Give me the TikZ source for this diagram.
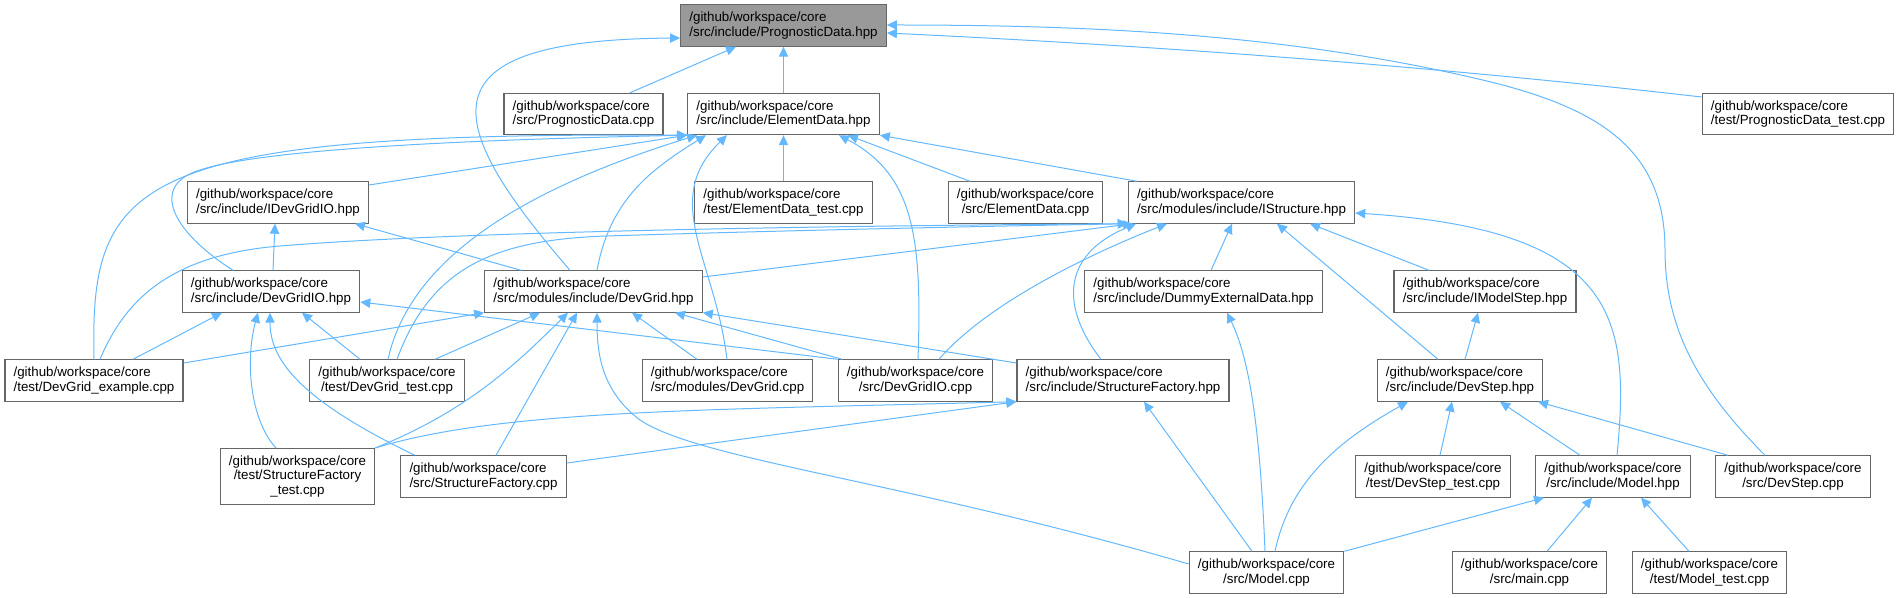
\documentclass[tikz,border=0pt]{standalone}
\usepackage{fontspec}
\setmainfont{Liberation Sans}
\usetikzlibrary{arrows.meta}
\definecolor{depblue}{HTML}{63B8FF}
\definecolor{boxgray}{HTML}{666666}
\definecolor{curgray}{HTML}{999999}

\begin{document}
\begin{tikzpicture}[
  x=0.75pt, y=-0.75pt,
  file/.style={rectangle,draw=boxgray,fill=white,line width=0.9pt,align=left,
    inner xsep=6.5pt,inner ysep=5.3pt,font=\fontsize{10}{11}\selectfont},
  mfile/.style={file,align=center},
  curfile/.style={file,fill=curgray},
  dep/.style={draw=depblue,line width=0.75pt,-{Triangle[length=7.5pt,width=7pt]}}
]
  \useasboundingbox (0,0) rectangle (1901,598);
  % files
  \node[curfile] (pdhpp) at (783.5,25.5) {/github/workspace/core\\/src/include/PrognosticData.hpp};
  \node[file] (pdcpp) at (583.5,114) {/github/workspace/core\\/src/PrognosticData.cpp};
  \node[file] (edhpp) at (783.5,114) {/github/workspace/core\\/src/include/ElementData.hpp};
  \node[file] (pdtest) at (1798,114) {/github/workspace/core\\/test/PrognosticData\_test.cpp};
  \node[file] (idgio) at (278,202.5) {/github/workspace/core\\/src/include/IDevGridIO.hpp};
  \node[file] (edtest) at (783.5,202.5) {/github/workspace/core\\/test/ElementData\_test.cpp};
  \node[mfile] (edcpp) at (1025.5,202.5) {/github/workspace/core\\/src/ElementData.cpp};
  \node[file] (istr) at (1241.5,202.5) {/github/workspace/core\\/src/modules/include/IStructure.hpp};
  \node[file] (dgiohpp) at (271,291.5) {/github/workspace/core\\/src/include/DevGridIO.hpp};
  \node[file] (dghpp) at (593.5,291.5) {/github/workspace/core\\/src/modules/include/DevGrid.hpp};
  \node[file] (dummy) at (1203.5,291.5) {/github/workspace/core\\/src/include/DummyExternalData.hpp};
  \node[file] (imstep) at (1485,291.5) {/github/workspace/core\\/src/include/IModelStep.hpp};
  \node[file] (dgex) at (94,380.5) {/github/workspace/core\\/test/DevGrid\_example.cpp};
  \node[mfile] (dgtest) at (387,380.5) {/github/workspace/core\\/test/DevGrid\_test.cpp};
  \node[file] (dgcpp) at (727.5,380.5) {/github/workspace/core\\/src/modules/DevGrid.cpp};
  \node[mfile] (dgiocpp) at (915.5,380.5) {/github/workspace/core\\/src/DevGridIO.cpp};
  \node[file] (sfhpp) at (1123,380.5) {/github/workspace/core\\/src/include/StructureFactory.hpp};
  \node[file] (dshpp) at (1460,380.5) {/github/workspace/core\\/src/include/DevStep.hpp};
  \node[mfile] (sftest) at (297.5,476.5) {/github/workspace/core\\/test/StructureFactory\\\_test.cpp};
  \node[file] (sfcpp) at (483.5,476.5) {/github/workspace/core\\/src/StructureFactory.cpp};
  \node[mfile] (dstest) at (1433,476.5) {/github/workspace/core\\/test/DevStep\_test.cpp};
  \node[mfile] (mhpp) at (1613,476.5) {/github/workspace/core\\/src/include/Model.hpp};
  \node[mfile] (dscpp) at (1793,476.5) {/github/workspace/core\\/src/DevStep.cpp};
  \node[mfile] (mcpp) at (1266.5,572.5) {/github/workspace/core\\/src/Model.cpp};
  \node[mfile] (maincpp) at (1529.5,572.5) {/github/workspace/core\\/src/main.cpp};
  \node[mfile] (mtest) at (1709.5,572.5) {/github/workspace/core\\/test/Model\_test.cpp};
  % PrognosticData.hpp
  \draw[dep] (pdcpp.north -| 630,0) -- (pdhpp.south -| 736,0);
  \draw[dep] (edhpp) -- (pdhpp);
  \draw[dep] (dghpp.north -| 570,0) .. controls (440,120) and (420,40) .. (pdhpp.west |- 0,38);
  \draw[dep] (pdtest.west |- 0,97) .. controls (1430,66) and (1160,46) .. (pdhpp.east |- 0,33);
  \draw[dep] (dscpp.north -| 1765,0) .. controls (1700,390) and (1665,330) .. (1665,250)
    .. controls (1665,150) and (1600,110) .. (1495,83) .. controls (1300,35) and (1100,25) .. (pdhpp.east |- 0,25);
  % ElementData.hpp
  \draw[dep] (idgio.east |- 0,185) -- (edhpp.south west);
  \draw[dep] (edtest) -- (edhpp);
  \draw[dep] (edcpp.north -| 970,0) -- (edhpp.south -| 848,0);
  \draw[dep] (istr.north -| 1137,0) -- (edhpp.south east);
  \draw[dep] (dgiocpp.north -| 918,0) .. controls (922,240) and (915,175) .. (edhpp.south -| 839,0);
  \draw[dep] (dgcpp.north -| 727,0) .. controls (715,260) and (660,200) .. (edhpp.south -| 727,0);
  \draw[dep] (dghpp.north -| 597,0) .. controls (610,200) and (650,170) .. (edhpp.south -| 706,0);
  \draw[dep] (dgtest.north -| 388,0) .. controls (410,260) and (520,190) .. (edhpp.south -| 697,0);
  \draw[dep] (dgiohpp.north -| 233,0) .. controls (170,230) and (150,185) .. (200,170)
    .. controls (260,150) and (450,140) .. (edhpp.south west);
  \draw[dep] (dgex.north -| 94,0) .. controls (90,180) and (130,132) .. (edhpp.south west);
  % IDevGridIO.hpp
  \draw[dep] (dgiohpp.north -| 273,0) -- (idgio.south -| 275,0);
  \draw[dep] (dghpp.north -| 521,0) -- (idgio.south -| 355,0);
  % IStructure.hpp
  \draw[dep] (dghpp.east |- 0,277) -- (istr.south -| 1133,0);
  \draw[dep] (dgtest.north -| 397,0) .. controls (430,270) and (490,240) .. (606,236)
    .. controls (800,230) and (1000,226) .. (istr.south west);
  \draw[dep] (dgex.north -| 100,0) .. controls (125,300) and (170,255) .. (280,246)
    .. controls (450,232) and (800,226) .. (istr.south west);
  \draw[dep] (sfhpp.north -| 1101,0) .. controls (1070,320) and (1050,260) .. (istr.south -| 1136,0);
  \draw[dep] (dgiocpp.north -| 939,0) .. controls (990,300) and (1100,250) .. (istr.south -| 1167,0);
  \draw[dep] (dummy.north -| 1211,0) -- (istr.south -| 1232,0);
  \draw[dep] (imstep.north -| 1429,0) -- (istr.south -| 1310,0);
  \draw[dep] (dshpp.north -| 1438,0) -- (istr.south -| 1277,0);
  \draw[dep] (mhpp.north -| 1617,0) .. controls (1630,320) and (1620,230) .. (istr.east |- 0,213);
  % DevGridIO.hpp
  \draw[dep] (dgex.north -| 133,0) -- (dgiohpp.south -| 222,0);
  \draw[dep] (dgtest.north -| 360,0) -- (dgiohpp.south -| 302,0);
  \draw[dep] (sftest.north -| 276,0) .. controls (250,420) and (245,360) .. (dgiohpp.south -| 258,0);
  \draw[dep] (sfcpp.north -| 415,0) .. controls (300,400) and (270,360) .. (dgiohpp.south -| 270,0);
  \draw[dep] (dgiocpp.north west) -- (dgiohpp.east |- 0,302);
  % DevGrid.hpp
  \draw[dep] (dgex.east |- 0,363) -- (dghpp.south west);
  \draw[dep] (dgtest.north -| 435,0) -- (dghpp.south -| 540,0);
  \draw[dep] (sftest.north east) .. controls (470,410) and (520,360) .. (dghpp.south -| 568,0);
  \draw[dep] (sfcpp.north -| 496,0) -- (dghpp.south -| 577,0);
  \draw[dep] (mcpp.west |- 0,564) .. controls (900,480) and (700,460) .. (640,420)
    .. controls (600,390) and (597,350) .. (dghpp.south -| 597,0);
  \draw[dep] (dgcpp.north -| 697,0) -- (dghpp.south -| 632,0);
  \draw[dep] (dgiocpp.north -| 842,0) -- (dghpp.south -| 675,0);
  \draw[dep] (sfhpp.west |- 0,363) -- (dghpp.south east);
  % StructureFactory.hpp
  \draw[dep] (sftest.north east) .. controls (500,410) and (700,410) .. (sfhpp.south west);
  \draw[dep] (sfcpp.east |- 0,463) -- (sfhpp.south west);
  \draw[dep] (mcpp.north -| 1252,0) -- (sfhpp.south -| 1144,0);
  % DummyExternalData.hpp, IModelStep.hpp
  \draw[dep] (mcpp.north -| 1265,0) .. controls (1260,430) and (1250,360) .. (dummy.south -| 1227,0);
  \draw[dep] (dshpp.north -| 1465,0) -- (imstep.south -| 1478,0);
  % DevStep.hpp
  \draw[dep] (mcpp.north -| 1275,0) .. controls (1290,480) and (1340,440) .. (dshpp.south -| 1408,0);
  \draw[dep] (dstest.north -| 1440,0) -- (dshpp.south -| 1452,0);
  \draw[dep] (mhpp.north -| 1580,0) -- (dshpp.south -| 1500,0);
  \draw[dep] (dscpp.north -| 1728,0) -- (dshpp.south -| 1538,0);
  % Model.hpp
  \draw[dep] (mcpp.north east) -- (mhpp.south -| 1544,0);
  \draw[dep] (maincpp.north -| 1547,0) -- (mhpp.south -| 1592,0);
  \draw[dep] (mtest.north -| 1689,0) -- (mhpp.south -| 1641,0);
\end{tikzpicture}
\end{document}
